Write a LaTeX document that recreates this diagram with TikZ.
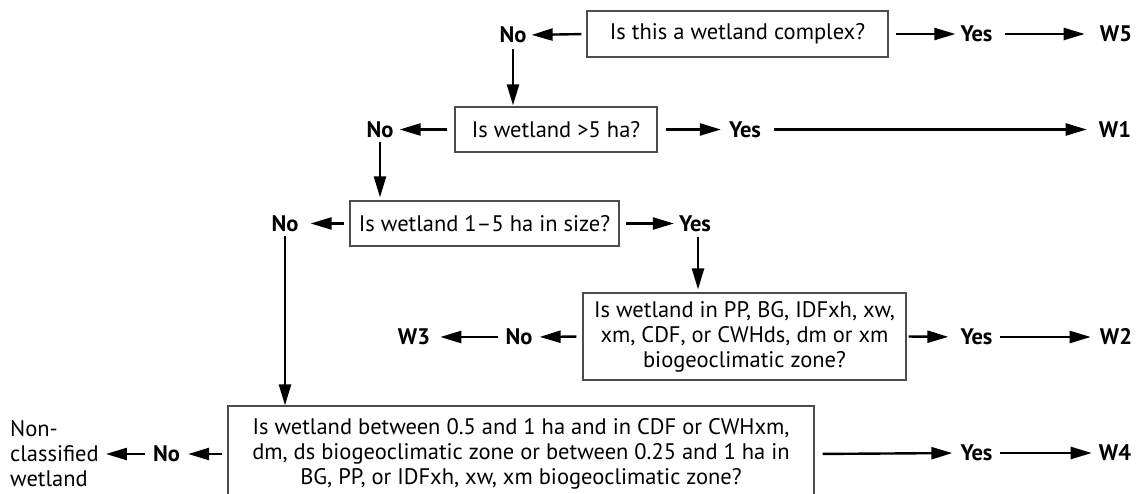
\documentclass[tikz,border=0pt]{standalone}
\usepackage{fontspec}
\setmainfont{PT Sans}
\usetikzlibrary{arrows.meta}
\newcommand\qfont{\fontsize{22.5}{25}\selectfont}
\begin{document}
\begin{tikzpicture}[x=1pt,y=-1pt,
  box/.style={draw=black!70, line width=1.2pt, inner sep=0pt, align=center, font=\qfont},
  lab/.style={inner sep=0pt, font=\qfont\bfseries},
  arr/.style={line width=2.4pt, -{Triangle[length=21pt,width=12pt]}},
]
\useasboundingbox (0,0) rectangle (1136,494);
\clip (0,0) rectangle (1136,494);
% boxes
\node[box, minimum width=301pt, minimum height=46pt] (b1) at (737.5,34) {Is this a wetland complex?};
\node[box, minimum width=202pt, minimum height=45pt] (b2) at (556,129.5) {Is wetland >5 ha?};
\node[box, minimum width=269pt, minimum height=45pt] (b3) at (484.5,223.5) {Is wetland 1–5 ha in size?};
\node[box, minimum width=323pt, minimum height=87pt] (b4) at (744.5,336.5) {Is wetland in PP, BG, IDFxh, xw,\\xm, CDF, or CWHds, dm or xm\\biogeoclimatic zone?};
\node[box, minimum width=586pt, minimum height=96pt] (b5) at (521,454) {Is wetland between 0.5 and 1 ha and in CDF or CWHxm,\\dm, ds biogeoclimatic zone or between 0.25 and 1 ha in\\BG, PP, or IDFxh, xw, xm biogeoclimatic zone?};
% labels
\node[lab] (no1) at (513,35) {No};
\node[lab] (yes1) at (976.5,34) {Yes};
\node[lab] (w5) at (1116,34) {W5};
\node[lab] (no2) at (380,129.5) {No};
\node[lab] (yes2) at (745,129.5) {Yes};
\node[lab] (w1) at (1115,129.5) {W1};
\node[lab] (no3) at (285,223.5) {No};
\node[lab] (yes3) at (695,223.5) {Yes};
\node[lab] (no4) at (519,337) {No};
\node[lab] (w3) at (414,337) {W3};
\node[lab] (yes4) at (976.5,337) {Yes};
\node[lab] (w2) at (1116,337) {W2};
\node[lab] (no5) at (166.5,454) {No};
\node[inner sep=0pt, align=left, font=\qfont, anchor=west] (nc) at (10,454) {Non-\\classified\\wetland};
\node[lab] (yes5) at (976.5,453) {Yes};
\node[lab] (w4) at (1115,453) {W4};
% connectors
\draw[arr, shorten <=5pt, shorten >=5pt] (b1.west) -- (no1.east);
\draw[arr, shorten <=7pt, shorten >=5pt] (b1.east) -- (yes1.west);
\draw[arr, shorten <=12pt, shorten >=15pt] (yes1.east) -- (w5.west);
\draw[arr, shorten <=6pt, shorten >=1pt] (no1.south) -- (no1.south |- b2.north);
\draw[arr, shorten <=7pt, shorten >=6pt] (b2.west) -- (no2.east);
\draw[arr, shorten <=8pt, shorten >=8pt] (b2.east) -- (yes2.west);
\draw[arr, shorten <=13pt, shorten >=12pt] (yes2.east) -- (w1.west);
\draw[arr, shorten <=4pt, shorten >=3pt] (no2.south) -- (no2.south |- b3.north);
\draw[arr, shorten <=5pt, shorten >=12pt] (b3.west) -- (no3.east);
\draw[arr, shorten <=6pt, shorten >=5pt] (b3.east) -- (yes3.west);
\draw[arr, shorten <=5pt, shorten >=3pt] ([xshift=3pt]yes3.south) -- ([xshift=3pt]yes3.south |- b4.north);
\draw[arr, shorten <=6pt, shorten >=7pt] (b4.west) -- (no4.east);
\draw[arr, shorten <=7pt, shorten >=10pt] (no4.west) -- (w3.east);
\draw[arr, shorten <=2pt, shorten >=12pt] (b4.east) -- (yes4.west);
\draw[arr, shorten <=7pt, shorten >=9pt] (yes4.east) -- (w2.west);
\draw[arr, shorten <=4pt, shorten >=0pt] (no3.south) -- (no3.south |- b5.north);
\draw[arr, shorten <=5pt, shorten >=8pt] (b5.west) -- (no5.east);
\draw[arr, shorten <=8pt, shorten >=7pt] (no5.west) -- (nc.east |- no5.west);
\draw[arr, shorten <=8pt, shorten >=8pt] (b5.east) -- (yes5.west);
\draw[arr, shorten <=7pt, shorten >=7pt] (yes5.east) -- (w4.west);
\end{tikzpicture}
\end{document}
